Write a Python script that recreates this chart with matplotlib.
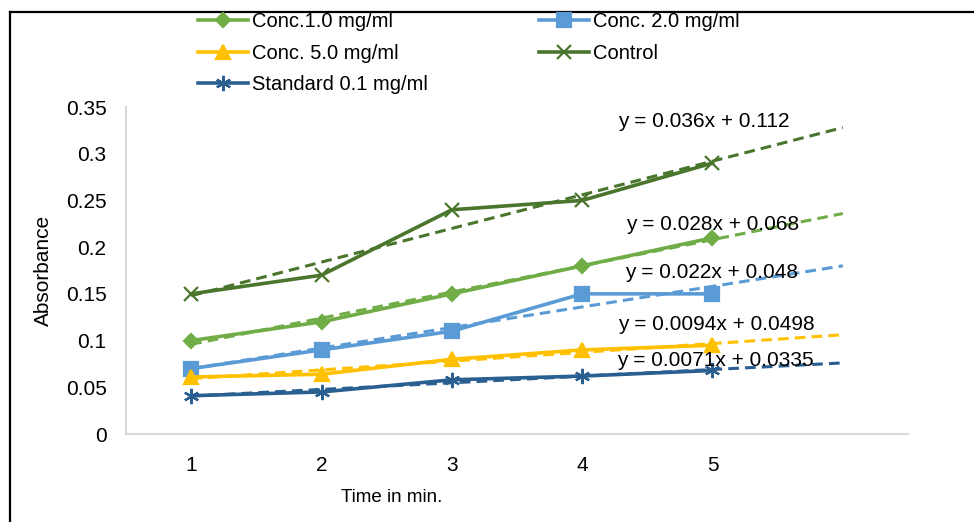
import numpy as np
import matplotlib
matplotlib.use("Agg")
import matplotlib.pyplot as plt
from matplotlib.lines import Line2D

plt.rcParams["font.family"] = ["Liberation Sans", "DejaVu Sans"]

time_min = [1, 2, 3, 4, 5]
conc_1 = [0.10, 0.12, 0.15, 0.18, 0.21]
conc_2 = [0.07, 0.09, 0.11, 0.15, 0.15]
conc_5 = [0.061, 0.064, 0.080, 0.090, 0.095]
control = [0.15, 0.17, 0.24, 0.25, 0.29]
standard = [0.041, 0.045, 0.058, 0.062, 0.068]

labels = ["Conc.1.0 mg/ml", "Conc. 2.0 mg/ml", "Conc. 5.0 mg/ml",
          "Control", "Standard 0.1 mg/ml"]
equations = ["y = 0.028x + 0.068", "y = 0.022x + 0.048",
             "y = 0.0094x + 0.0498", "y = 0.036x + 0.112",
             "y = 0.0071x + 0.0335"]
y_ticks = [0, 0.05, 0.1, 0.15, 0.2, 0.25, 0.3, 0.35]
y_tick_labels = ["0", "0.05", "0.1", "0.15", "0.2", "0.25", "0.3", "0.35"]

colors = ["#70AD47", "#5B9BD5", "#FFC000", "#4A752C", "#2A5F91"]
markers = ["D", "s", "^", "x", (6, 2, 0)]
msizes = [7, 10, 10, 10, 11]
# where the trendline equations sit (data coords)
eq_pos = [(5.0, 0.224), (4.99, 0.173), (5.03, 0.117), (4.93, 0.334), (5.02, 0.079)]

fig = plt.figure(figsize=(9.74, 5.22), dpi=100)
ax = fig.add_axes([126 / 974, 1 - 434 / 522, 782 / 974, 327 / 522])

series = [conc_1, conc_2, conc_5, control, standard]
handles = []
x = np.array(time_min, dtype=float)
for ys, c, m, ms, lab in zip(series, colors, markers, msizes, labels):
    h, = ax.plot(x, ys, color=c, lw=2.6, marker=m, ms=ms, mew=1.6,
                 mfc=c, mec=c, label=lab, zorder=3)
    handles.append(h)
    k, b = np.polyfit(x, ys, 1)
    xt = np.array([x[0], x[-1] + 1])
    ax.plot(xt, k * xt + b, color=c, lw=2.2, ls=(0, (3.5, 2)), zorder=2)

for eq, (ex, ey) in zip(equations, eq_pos):
    ax.text(ex, ey, eq, ha="center", va="center", fontsize=15, color="#000000", zorder=4)

ax.set_xlim(0.5, 6.5)
ax.set_ylim(0, 0.35)
ax.set_xticks(time_min)
ax.set_xticklabels([str(t) for t in time_min])
ax.set_yticks(y_ticks)
ax.set_yticklabels(y_tick_labels)
ax.tick_params(length=0, labelsize=15, colors="#000000")
ax.tick_params(axis="y", pad=14)
ax.tick_params(axis="x", pad=16)
for s in ["top", "right"]:
    ax.spines[s].set_visible(False)
for s in ["left", "bottom"]:
    ax.spines[s].set_color("#D9D9D9")
    ax.spines[s].set_linewidth(1.5)

ax.set_ylabel("Absorbance", fontsize=15)
ax.yaxis.set_label_coords(-0.105, 0.5)
ax.yaxis.label.set_va("center")
ax.set_xlabel("Time in min.", fontsize=13.5)
ax.xaxis.set_label_coords(0.34, -0.193)
ax.xaxis.label.set_va("center")

order = [0, 2, 4, 1, 3]
fig.legend([handles[i] for i in order], [labels[i] for i in order], ncol=2,
           loc="upper left", bbox_to_anchor=(188 / 974, 1 - 2 / 522),
           frameon=False, fontsize=14.5, handlelength=2.5, handletextpad=0.2,
           columnspacing=5.5, labelspacing=0.62, borderpad=0)

# outer frame (top and left edges visible in the crop)
fig.add_artist(Line2D([10 / 974, 10 / 974], [0, 1 - 12 / 522], color="black", lw=1.6))
fig.add_artist(Line2D([10 / 974, 1], [1 - 12 / 522, 1 - 12 / 522], color="black", lw=1.6))

fig.savefig("out.png", dpi=100)
